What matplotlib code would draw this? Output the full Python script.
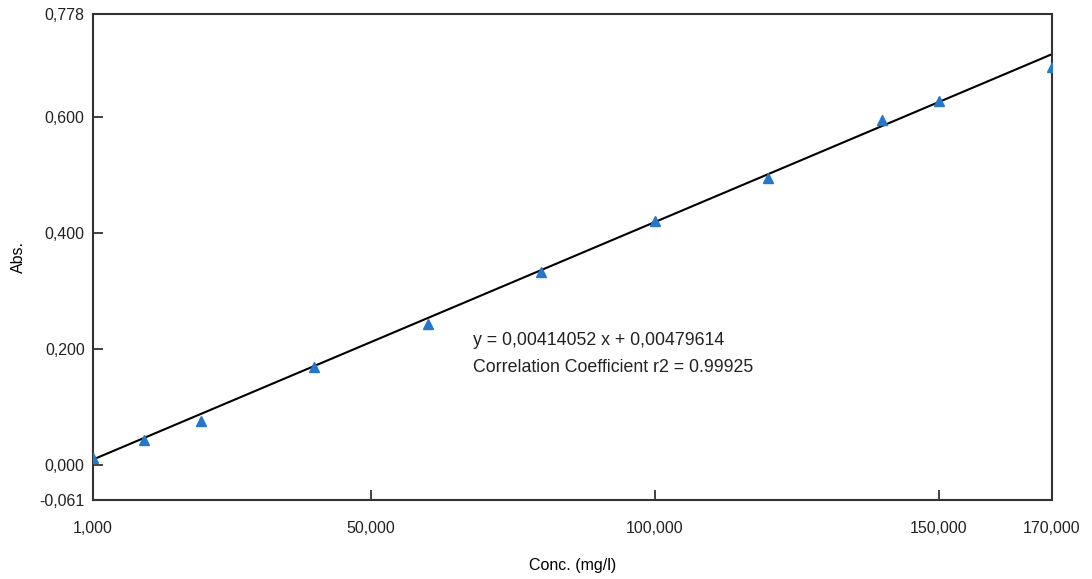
import numpy as np
import matplotlib
matplotlib.use("Agg")
import matplotlib.pyplot as plt
from matplotlib.ticker import FuncFormatter

# dados
conc = [1, 10, 20, 40, 60, 80, 100, 120, 140, 150, 170]
absorb = [0.012, 0.043, 0.075, 0.169, 0.243, 0.333, 0.420, 0.495, 0.595, 0.627, 0.687]
inclinacao = 0.00414052
intercepto = 0.00479614
r2 = 0.99925

x_ticks = [1, 50, 100, 150, 170]
y_ticks = [-0.061, 0.0, 0.2, 0.4, 0.6, 0.778]

plt.rcParams['font.family'] = ['Liberation Sans', 'DejaVu Sans']

fig = plt.figure(figsize=(10.92, 5.79), dpi=100)
ax = fig.add_axes([0.0852, 0.1364, 0.8782, 0.8394])

# reta de calibração + pontos medidos
xs = np.array([conc[0], conc[-1]])
ax.plot(xs, inclinacao * xs + intercepto, color='black', lw=1.5, zorder=2)
ax.plot(conc, absorb, linestyle='none', marker='^', markersize=7.5,
        color='#2677c9', zorder=3)

ax.set_xlim(1, 170)
ax.set_ylim(-0.061, 0.778)
ax.set_xticks(x_ticks)
ax.set_yticks(y_ticks)
virgula = FuncFormatter(lambda v, p: f"{v:.3f}".replace('.', ','))
ax.xaxis.set_major_formatter(virgula)
ax.yaxis.set_major_formatter(virgula)
ax.tick_params(direction='in', length=7, width=1.2, labelsize=11.5, colors='#222222')
ax.tick_params(axis='x', pad=15)
ax.tick_params(axis='y', pad=6)
for s in ax.spines.values():
    s.set_linewidth(1.5)
    s.set_color('#333333')

ax.set_xlabel('Conc. (mg/l)', fontsize=11.5, labelpad=16)
ax.set_ylabel('Abs.', fontsize=11.5, labelpad=10)

eq = f"y = {inclinacao:.8f} x + {intercepto:.8f}".replace('.', ',')
ax.text(68, 0.215, eq, fontsize=12.8, va='center', color='#222222')
ax.text(68, 0.167, f"Correlation Coefficient r2 = {r2}", fontsize=12.8, va='center', color='#222222')

fig.savefig('out.png', dpi=100)
